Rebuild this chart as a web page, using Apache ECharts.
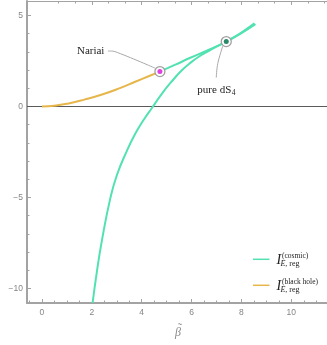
<!DOCTYPE html>
<html>
<head>
<meta charset="utf-8">
<script src="https://cdn.jsdelivr.net/npm/echarts@6/dist/echarts.min.js"></script>
<style>
  html, body { margin: 0; padding: 0; background: #fff; }
  #chart { width: 327px; height: 345px; }
</style>
</head>
<body>
<div id="chart"></div>
<script>
// data
const cosmicLower = [
  [2.03, -10.8], [2.2, -9.1], [2.41, -7.32], [2.74, -5.05], [3.01, -3.75],
  [3.41, -2.42], [3.74, -1.5], [4.08, -0.73], [4.41, -0.08], [4.85, 0.78],
  [5.28, 1.5], [5.6, 1.98], [5.95, 2.4], [6.3, 2.75], [6.62, 3.0],
  [7.0, 3.29], [7.39, 3.57], [8.0, 4.04], [8.56, 4.53]
];
const cosmicUpper = [
  [4.73, 1.92], [5.35, 2.3], [5.95, 2.68], [6.7, 3.12], [7.39, 3.57],
  [8.0, 4.07], [8.52, 4.57]
];
const blackHole = [
  [0, 0], [0.5, 0.04], [1.07, 0.17], [1.7, 0.38], [2.41, 0.66],
  [3.1, 1.0], [3.74, 1.36], [4.3, 1.68], [4.73, 1.92]
];
const nariaiPoint = [4.73, 1.92];
const dS4Point = [7.39, 3.57];

const xMajor = [0, 2, 4, 6, 8, 10];
const xMinor = [-0.5, 0.5, 1, 1.5, 2.5, 3, 3.5, 4.5, 5, 5.5, 6.5, 7, 7.5, 8.5, 9, 9.5, 10.5, 11];
const xTopMinor = [-2/3, 2/3, 4/3, 8/3, 10/3, 14/3, 16/3, 20/3, 22/3, 26/3, 28/3, 32/3, 34/3];
const yMajor = [-10, -5, 0, 5];
const yMinor = [-9, -8, -7, -6, -4, -3, -2, -1, 1, 2, 3, 4];

const green = '#52e2b2';
const orange = '#e6b64a';
const axisGray = '#a3a3a3';
const labelGray = '#858585';
const serif = '"Liberation Serif", "DejaVu Serif", serif';

const X_MIN = -0.6, X_MAX = 11.43, Y_MIN = -10.8, Y_MAX = 5.8;
const gridPos = { left: 27, right: 0, top: 1, bottom: 42, containLabel: false };

const minus = v => String(v).replace('-', '\u2212');

function xAx(grid, pos, opts) {
  return Object.assign({
    type: 'value', gridIndex: grid, position: pos, min: X_MIN, max: X_MAX,
    splitLine: { show: false },
    axisLine: { show: false, onZero: false },
    axisLabel: { show: false },
    axisTick: { show: false }
  }, opts);
}
function yAx(grid, opts) {
  return Object.assign({
    type: 'value', gridIndex: grid, position: 'left', min: Y_MIN, max: Y_MAX,
    splitLine: { show: false },
    axisLine: { show: false, onZero: false },
    axisLabel: { show: false },
    axisTick: { show: false }
  }, opts);
}

const chart = echarts.init(document.getElementById('chart'), null, { renderer: 'canvas' });

const option = {
  animation: false,
  grid: [gridPos, gridPos],
  xAxis: [
    xAx(0, 'bottom', {
      axisLine: { show: true, onZero: false, lineStyle: { color: axisGray, width: 2 } },
      axisTick: { show: true, inside: true, length: 4, customValues: xMajor, lineStyle: { color: axisGray } },
      axisLabel: { show: true, customValues: xMajor, color: labelGray, fontSize: 8.5, margin: 5, formatter: minus,
        fontFamily: '"Liberation Sans", sans-serif' }
    }),
    xAx(0, 'top', {
      axisLine: { show: true, onZero: false, lineStyle: { color: axisGray, width: 1 } },
      axisTick: { show: true, inside: true, length: 2.5, customValues: xTopMinor, lineStyle: { color: axisGray } }
    }),
    xAx(1, 'bottom', {
      axisTick: { show: true, inside: true, length: 2.5, customValues: xMinor, lineStyle: { color: axisGray } }
    }),
    xAx(1, 'top', {
      axisTick: { show: true, inside: true, length: 4, customValues: [2, 4, 6, 8, 10], lineStyle: { color: axisGray } }
    })
  ],
  yAxis: [
    yAx(0, {
      axisLine: { show: true, onZero: false, lineStyle: { color: axisGray, width: 2 } },
      axisTick: { show: true, inside: true, length: 4, customValues: yMajor, lineStyle: { color: axisGray } },
      axisLabel: { show: true, customValues: yMajor, color: labelGray, fontSize: 8.5, margin: 4, formatter: minus,
        fontFamily: '"Liberation Sans", sans-serif' }
    }),
    yAx(1, {
      axisTick: { show: true, inside: true, length: 2.5, customValues: yMinor, lineStyle: { color: axisGray } }
    })
  ],
  series: [
    {
      name: 'zero', type: 'line', data: [], xAxisIndex: 0, yAxisIndex: 0, z: 1,
      markLine: {
        silent: true, symbol: ['none', 'none'], label: { show: false }, z: 1,
        lineStyle: { color: '#5a5a5a', width: 1, type: 'solid' },
        data: [{ yAxis: 0 }]
      }
    },
    {
      name: 'cosmic', type: 'line', data: cosmicLower, smooth: 0.5, showSymbol: false,
      lineStyle: { color: green, width: 2 }, z: 3
    },
    {
      name: 'cosmic upper', type: 'line', data: cosmicUpper, smooth: 0.5, showSymbol: false,
      lineStyle: { color: green, width: 2 }, z: 3
    },
    {
      name: 'black hole', type: 'line', data: blackHole, smooth: 0.5, showSymbol: false,
      lineStyle: { color: orange, width: 2 }, z: 3
    },
    {
      name: 'rings', type: 'scatter', data: [nariaiPoint, dS4Point], symbolSize: 10,
      itemStyle: { color: '#fff', borderColor: '#a0a0a0', borderWidth: 1.3, opacity: 1 }, z: 5
    },
    {
      name: 'nariai dot', type: 'scatter', data: [nariaiPoint], symbolSize: 5,
      itemStyle: { color: '#e040e0', opacity: 1 }, z: 6
    },
    {
      name: 'ds4 dot', type: 'scatter', data: [dS4Point], symbolSize: 5,
      itemStyle: { color: '#2b8a6c', opacity: 1 }, z: 6
    }
  ]
};
chart.setOption(option);

// callouts and legend
const pN = chart.convertToPixel({ gridIndex: 0 }, nariaiPoint);
const pD = chart.convertToPixel({ gridIndex: 0 }, dS4Point);

function txt(text, x, y, size, align, extra) {
  return {
    type: 'text', z: 20,
    style: Object.assign({
      text: text, x: x, y: y, font: size + 'px ' + serif, fill: '#222',
      align: align, textAlign: align, verticalAlign: 'middle', textVerticalAlign: 'middle'
    }, extra || {})
  };
}
function seg(points, color, w) {
  return {
    type: 'polyline', z: 4, shape: { points: points, smooth: 0.35 },
    style: { stroke: color, lineWidth: w, fill: null }
  };
}

const graphics = [
  // Nariai callout
  seg([[pN[0] - 52, pN[1] - 20.5], [pN[0] - 45, pN[1] - 20], [pN[0] - 5, pN[1] - 3.5]], '#a8a8a8', 1),
  txt('Nariai', pN[0] - 55.5, pN[1] - 20.5, 11, 'right'),
  // pure dS4 callout
  seg([[pD[0] - 3.5, pD[1] + 4.5], [pD[0] - 8.5, pD[1] + 22], [pD[0] - 10, pD[1] + 36]], '#a8a8a8', 1),
  txt('pure dS', pD[0] + 5, pD[1] + 48.5, 11, 'right'),
  txt('4', pD[0] + 5.5, pD[1] + 51.5, 7.5, 'left'),
  // legend
  { type: 'line', z: 20, shape: { x1: 253, y1: 259.3, x2: 269.5, y2: 259.3 }, style: { stroke: green, lineWidth: 1.5 } },
  txt('I', 276.5, 260.5, 14, 'left', { font: 'italic 14px ' + serif }),
  txt('(cosmic)', 282, 255.6, 7.5, 'left'),
  txt('E', 280.5, 263.8, 8, 'left', { font: 'italic 8px ' + serif }),
  txt(', reg', 285.3, 263.8, 8, 'left'),
  { type: 'line', z: 20, shape: { x1: 253, y1: 285.3, x2: 269.5, y2: 285.3 }, style: { stroke: orange, lineWidth: 1.5 } },
  txt('I', 276.5, 286.6, 14, 'left', { font: 'italic 14px ' + serif }),
  txt('(black hole)', 282, 282, 7.5, 'left'),
  txt('E', 280.5, 290, 8, 'left', { font: 'italic 8px ' + serif }),
  txt(', reg', 285.3, 290, 8, 'left'),
  // x axis name: beta with tilde
  txt('\u03b2', 178, 333, 12, 'center', { font: 'italic 12px ' + serif, fill: '#8a8a8a' }),
  txt('\u02dc', 180, 329, 12, 'center', { font: '12px ' + serif, fill: '#8a8a8a' })
];
chart.setOption({ graphic: graphics });
</script>
</body>
</html>
